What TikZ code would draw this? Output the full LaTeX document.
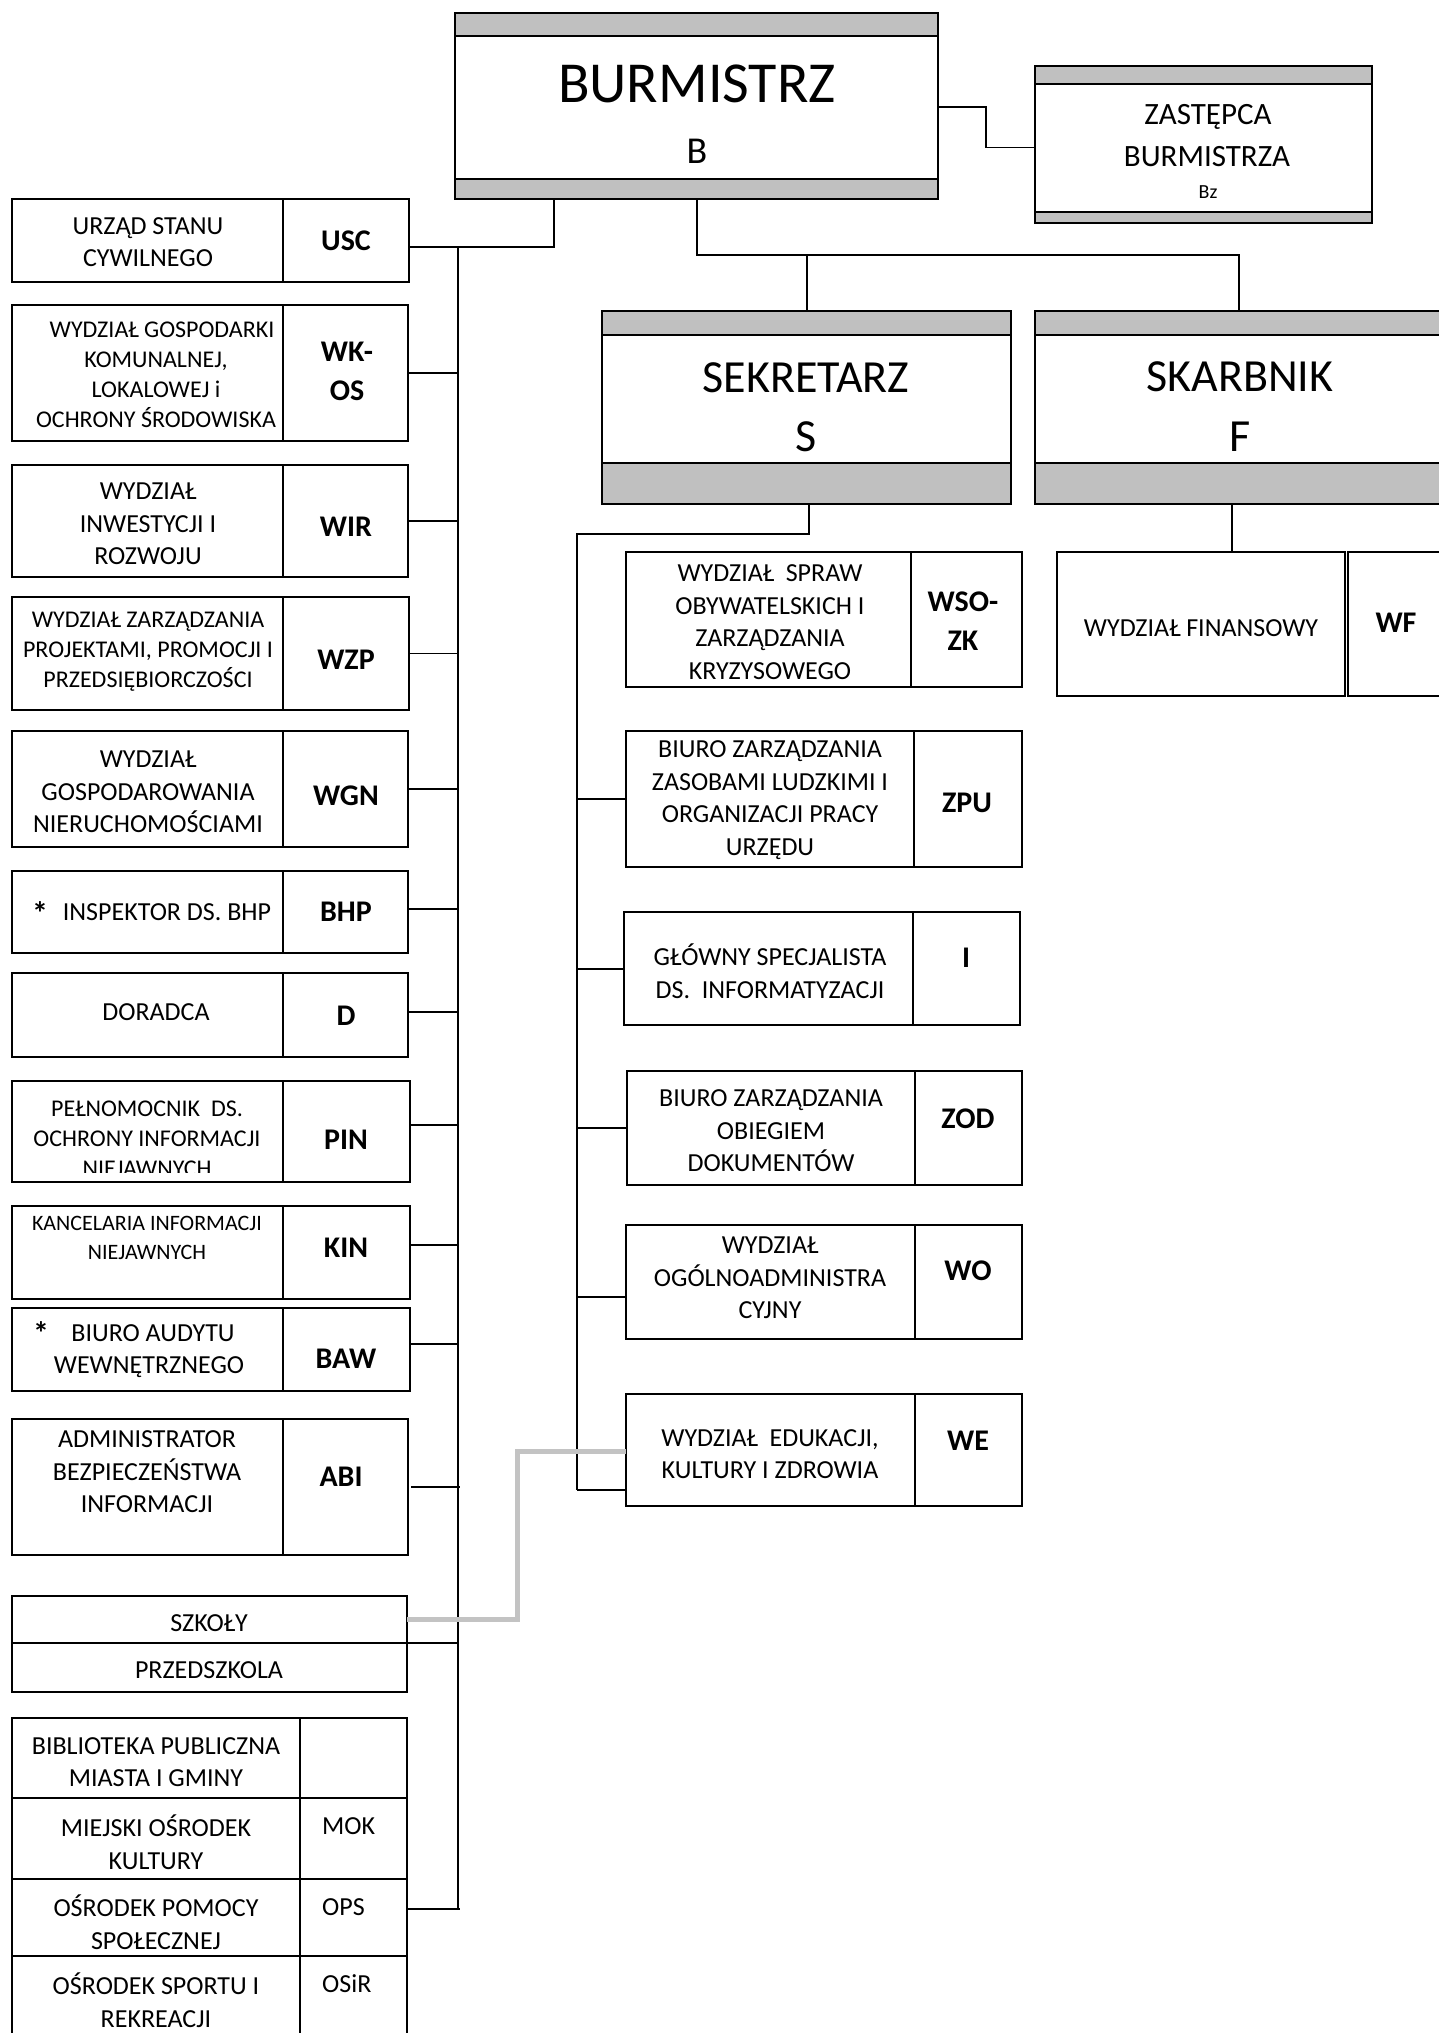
\documentclass[tikz,border=0pt]{standalone}
\usepackage{fontspec}
\setmainfont{Carlito}
\usetikzlibrary{calc}
\definecolor{bandc}{HTML}{C0C0C0}
\definecolor{glinec}{HTML}{C3C3C3}
\tikzset{
 box/.style={draw=black, line width=1.8pt, rectangle, inner sep=0pt, outer sep=0pt, anchor=north west},
 conn/.style={draw=black, line width=1.8pt},
 gconn/.style={draw=glinec, line width=5pt},
 bandfill/.style={fill=bandc, draw=black, line width=2.2pt},
 tx/.style={inner sep=0pt, align=center, font=\fontsize{26}{32.5}\selectfont},
 txa/.style={inner sep=0pt, align=center, font=\fontsize{24}{30}\selectfont},
 txb/.style={inner sep=0pt, align=center, font=\fontsize{22}{29}\selectfont},
 cd/.style={inner sep=0pt, align=center, font=\bfseries\fontsize{30}{39}\selectfont},
 big/.style={inner sep=0pt, font=\fontsize{46}{50}\selectfont},
 star/.style={inner sep=0pt, font=\bfseries\fontsize{32}{32}\selectfont},
}
\newcommand\bx[5]{\node[box, minimum width=#4pt, minimum height=#5pt] (#1) at (#2,#3) {};}
\begin{document}
\begin{tikzpicture}[x=1pt,y=-1pt]
\useasboundingbox (0,0) rectangle (1439,2033);
\clip (0,0) rectangle (1439,2033);
\fill[white] (0,0) rectangle (1439,2033);

% ---------- top boxes ----------
\bx{B}{455}{13}{483}{186}
\draw[bandfill] (B.north west) rectangle ($(B.north east)+(0,23)$);
\draw[bandfill] ($(B.south west)+(0,-20)$) rectangle (B.south east);
\node[inner sep=0pt, font=\fontsize{58}{60}\selectfont] (Bt) at (697,84) {BURMISTRZ};
\node[inner sep=0pt, font=\fontsize{38}{40}\selectfont] (Bc) at (697,151) {B};

\bx{Bz}{1035}{66}{337}{157}
\draw[bandfill] (Bz.north west) rectangle ($(Bz.north east)+(0,18)$);
\draw[bandfill] ($(Bz.south west)+(0,-11)$) rectangle (Bz.south east);
\node[inner sep=0pt, font=\fontsize{31}{34}\selectfont] (Bz1) at (1208,117) {ZASTĘPCA};
\node[inner sep=0pt, font=\fontsize{31}{34}\selectfont] (Bz2) at (1207,157) {BURMISTRZA};
\node[inner sep=0pt, font=\fontsize{20}{22}\selectfont] (Bz3) at (1208,192) {Bz};

\bx{S}{602}{311}{409}{193}
\draw[bandfill] (S.north west) rectangle ($(S.north east)+(0,24)$);
\draw[bandfill] ($(S.south west)+(0,-41)$) rectangle (S.south east);
\node[big] (St) at (806,378) {SEKRETARZ};
\node[big] (Sc) at (806,437) {S};

\bx{F}{1035}{311}{430}{193}
\draw[bandfill] (F.north west) rectangle ($(F.north east)+(0,24)$);
\draw[bandfill] ($(F.south west)+(0,-41)$) rectangle (F.south east);
\node[big] (Ft) at (1240,377) {SKARBNIK};
\node[big] (Fc) at (1240,437) {F};

% ---------- left column ----------
\bx{usc}{12}{199}{271}{83}   \bx{uscC}{283}{199}{126}{83}
\node[tx] (uscT) at (148,242) {URZĄD STANU\\CYWILNEGO};
\node[cd] (uscK) at (346,241) {USC};

\bx{wkos}{12}{305}{271}{136} \bx{wkosC}{283}{305}{125}{136}
\node[txa] (wkosT) at (156,375) {\hspace*{12pt}WYDZIAŁ GOSPODARKI\\KOMUNALNEJ,\\LOKALOWEJ i\\OCHRONY ŚRODOWISKA};
\node[cd] (wkosK) at (347,371) {WK-\\OS};

\bx{wir}{12}{465}{271}{112}  \bx{wirC}{283}{465}{125}{112}
\node[tx] (wirT) at (148,524) {WYDZIAŁ\\INWESTYCJI I\\ROZWOJU};
\node[cd] (wirK) at (346,527) {WIR};

\bx{wzp}{12}{597}{271}{113}  \bx{wzpC}{283}{597}{126}{113}
\node[txa] (wzpT) at (148,652) {WYDZIAŁ ZARZĄDZANIA\\PROJEKTAMI, PROMOCJI I\\PRZEDSIĘBIORCZOŚCI};
\node[cd] (wzpK) at (346,660) {WZP};

\bx{wgn}{12}{731}{271}{116}  \bx{wgnC}{283}{731}{125}{116}
\node[tx] (wgnT) at (148,792) {WYDZIAŁ\\GOSPODAROWANIA\\NIERUCHOMOŚCIAMI};
\node[cd] (wgnK) at (346,796) {WGN};

\bx{bhp}{12}{871}{271}{82}   \bx{bhpC}{283}{871}{125}{82}
\node[star] (bhpS) at (40,913) {*};
\node[tx] (bhpT) at (167,912) {INSPEKTOR DS. BHP};
\node[cd] (bhpK) at (346,912) {BHP};

\bx{dor}{12}{973}{271}{84}   \bx{dorC}{283}{973}{125}{84}
\node[tx] (dorT) at (156,1012) {DORADCA};
\node[cd] (dorK) at (346,1016) {D};

\bx{pin}{12}{1081}{271}{101} \bx{pinC}{283}{1081}{127}{101}
\begin{scope}
\clip (12,1081) rectangle (283,1172);
\node[txa] (pinT) at (147,1139) {PEŁNOMOCNIK\ \ DS.\\OCHRONY INFORMACJI\\NIEJAWNYCH};
\end{scope}
\node[cd] (pinK) at (346,1140) {PIN};

\bx{kin}{12}{1206}{271}{93}  \bx{kinC}{283}{1206}{127}{93}
\node[txb] (kinT) at (147,1238) {KANCELARIA INFORMACJI\\NIEJAWNYCH};
\node[cd] (kinK) at (346,1248) {KIN};

\bx{baw}{12}{1308}{271}{83}  \bx{bawC}{283}{1308}{127}{83}
\node[star] (bawS) at (41,1333) {*};
\node[tx] (bawT) at (149,1351) {\hspace*{8pt}BIURO AUDYTU\\WEWNĘTRZNEGO};
\node[cd] (bawK) at (346,1359) {BAW};

\bx{abi}{12}{1419}{271}{136} \bx{abiC}{283}{1419}{125}{136}
\node[tx] (abiT) at (147,1472) {ADMINISTRATOR\\BEZPIECZEŃSTWA\\INFORMACJI};
\node[cd] (abiK) at (341,1477) {ABI};

\bx{szk}{12}{1596}{395}{47}
\bx{prz}{12}{1643}{395}{49}
\node[tx] (szkT) at (209,1623) {SZKOŁY};
\node[tx] (przT) at (209,1670) {PRZEDSZKOLA};

\bx{bib}{12}{1718}{288}{80}  \bx{bibC}{300}{1718}{107}{80}
\bx{mok}{12}{1798}{288}{81}  \bx{mokC}{300}{1798}{107}{81}
\bx{ops}{12}{1879}{288}{77}  \bx{opsC}{300}{1879}{107}{77}
\bx{osr}{12}{1956}{288}{90}  \bx{osrC}{300}{1956}{107}{90}
\node[tx] (bibT) at (156,1762) {BIBLIOTEKA PUBLICZNA\\MIASTA I GMINY};
\node[tx] (mokT) at (156,1842) {MIEJSKI OŚRODEK\\KULTURY};
\node[tx] (opsT) at (156,1922) {OŚRODEK POMOCY\\SPOŁECZNEJ};
\node[tx] (osrT) at (156,2000) {OŚRODEK SPORTU I\\REKREACJI};
\node[tx, anchor=west] (mokK) at (322,1826) {MOK};
\node[tx, anchor=west] (opsK) at (322,1907) {OPS};
\node[tx, anchor=west] (osrK) at (322,1984) {OSiR};

% ---------- right column (Sekretarz) ----------
\bx{wso}{626}{552}{285}{135}  \bx{wsoC}{911}{552}{111}{135}
\node[tx] (wsoT) at (770,622) {WYDZIAŁ\ \ SPRAW\\OBYWATELSKICH I\\ZARZĄDZANIA\\KRYZYSOWEGO};
\node[cd] (wsoK) at (963,621) {WSO-\\ZK};

\bx{zpu}{626}{731}{288}{136}  \bx{zpuC}{914}{731}{108}{136}
\node[tx] (zpuT) at (770,800) {BIURO ZARZĄDZANIA\\ZASOBAMI LUDZKIMI I\\ORGANIZACJI PRACY\\URZĘDU};
\node[cd] (zpuK) at (967,803) {ZPU};

\bx{inf}{624}{912}{289}{113}  \bx{infC}{913}{912}{107}{113}
\node[tx] (infT) at (770,971) {GŁÓWNY SPECJALISTA\\DS.\ \ INFORMATYZACJI};
\node[cd] (infK) at (966,958) {I};

\bx{zod}{627}{1071}{288}{114} \bx{zodC}{915}{1071}{107}{114}
\node[tx] (zodT) at (771,1131) {BIURO ZARZĄDZANIA\\OBIEGIEM\\DOKUMENTÓW};
\node[cd] (zodK) at (968,1119) {ZOD};

\bx{wo}{626}{1225}{289}{114}  \bx{woC}{915}{1225}{107}{114}
\node[tx] (woT) at (770,1278) {WYDZIAŁ\\OGÓLNOADMINISTRA\\CYJNY};
\node[cd] (woK) at (968,1271) {WO};

\bx{we}{626}{1394}{289}{112}  \bx{weC}{915}{1394}{107}{112}
\node[tx] (weT) at (770,1454) {WYDZIAŁ\ \ EDUKACJI,\\KULTURY I ZDROWIA};
\node[cd] (weK) at (968,1441) {WE};

% ---------- Skarbnik ----------
\bx{wf}{1057}{552}{288}{144}  \bx{wfC}{1348}{552}{130}{144}
\node[tx] (wfT) at (1201,628) {WYDZIAŁ FINANSOWY};
\node[cd] (wfK) at (1396,623) {WF};

% ---------- connectors ----------
\coordinate (LT) at (458,247);
\coordinate (LB) at (458,1909);
\coordinate (bL) at (554,199);
\coordinate (bR) at (697,199);
\coordinate (hb) at (697,255);
\coordinate (sT) at (807,311);
\coordinate (fT) at (1239,311);
\coordinate (sB) at (809,504);
\coordinate (fB) at (1232,504);
\coordinate (RT) at (577,534);
\coordinate (RB) at (577,1490);
\coordinate (zx) at (986,107);
\coordinate (gx) at (517,1451);

% Burmistrz -> Zastepca
\draw[conn] (B.east |- zx) -- (zx) |- ($(Bz.west)+(0,3)$);
% Burmistrz -> left column
\draw[conn] (bL) -- (bL |- LT) -- (uscC.east |- LT);
\draw[conn] (LT) -- (LB);
\draw[conn] (wkosC.east) -- (wkosC.east -| LT);
\draw[conn] (wirC.east) -- (wirC.east -| LT);
\draw[conn] (wzpC.east) -- (wzpC.east -| LT);
\draw[conn] (wgnC.east) -- (wgnC.east -| LT);
\draw[conn] ($(bhpC.east)+(0,-3)$) -- ($(bhpC.east -| LT)+(0,-3)$);
\draw[conn] ($(dorC.east)+(0,-3)$) -- ($(dorC.east -| LT)+(0,-3)$);
\draw[conn] ($(pinC.east)+(0,-6.5)$) -- ($(pinC.east -| LT)+(0,-6.5)$);
\draw[conn] ($(kinC.east)+(0,-7.5)$) -- ($(kinC.east -| LT)+(0,-7.5)$);
\draw[conn] ($(bawC.east)+(0,-5.5)$) -- ($(bawC.east -| LT)+(0,-5.5)$);
\draw[conn] ($(abiC.east)+(3,0)$) -- ($(abiC.east -| LT)+(2,0)$);
\draw[conn] (prz.north east) -- (prz.north east -| LT);
\draw[conn] (opsC.east |- LB) -- ($(LB)+(2,0)$);
% Burmistrz -> Sekretarz, Skarbnik
\draw[conn] (bR) -- (hb) -| (fT);
\draw[conn] (sT) -- (sT |- hb);
% Sekretarz -> right column
\draw[conn] (sB) |- (RT) -- (RB);
\draw[conn] (zpu.west) -- (zpu.west -| RT);
\draw[conn] ($(inf.west)+(0,0.5)$) -- ($(inf.west -| RT)+(0,0.5)$);
\draw[conn] (zod.west) -- (zod.west -| RT);
\draw[conn] ($(wo.west)+(0,15)$) -- ($(wo.west -| RT)+(0,15)$);
\draw[conn] (we.west |- RB) -- (RB);
% Skarbnik -> WF
\draw[conn] (fB) -- (fB |- wf.north);
% gray link Szkoly -> WE
\draw[gconn] (szk.east) -- (szk.east -| gx) -- (gx) -- (gx -| we.west);
\end{tikzpicture}
\end{document}
